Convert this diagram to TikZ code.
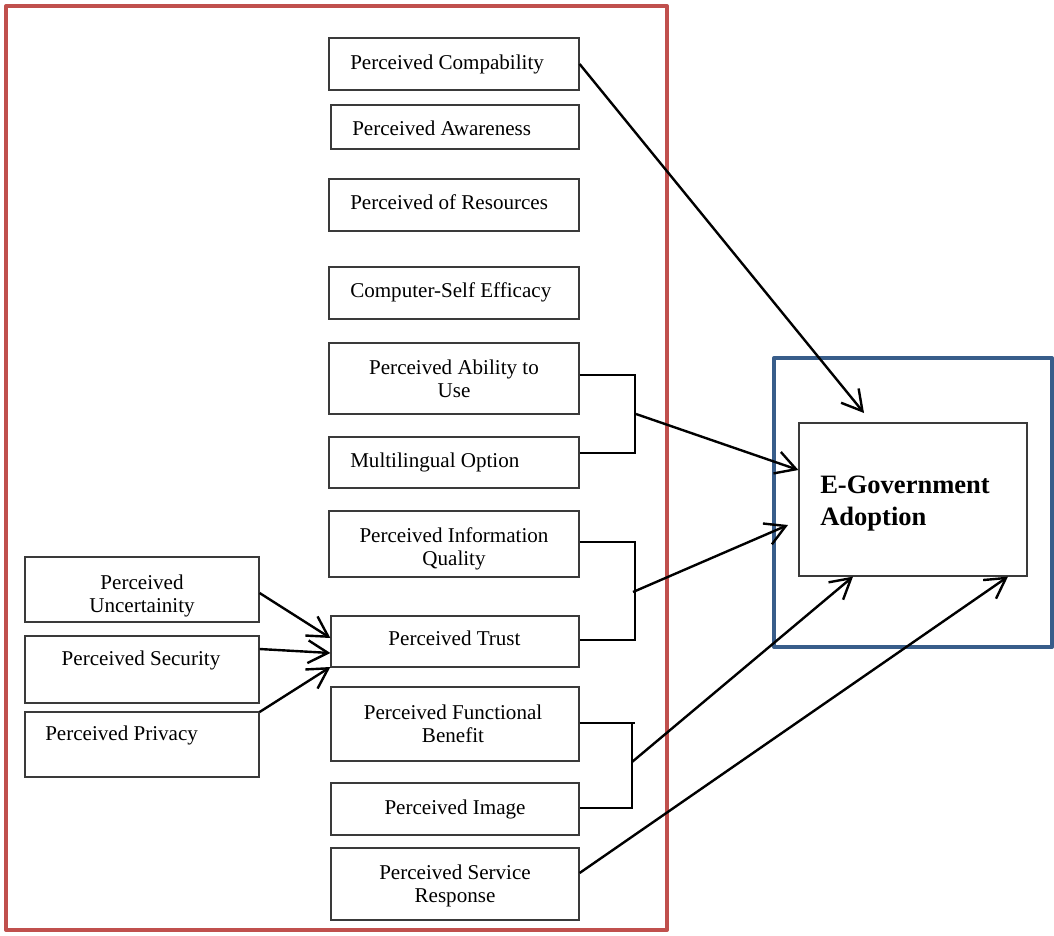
\documentclass[tikz,border=0pt]{standalone}
\usepackage{fontspec}
\setmainfont{Liberation Serif}
\usetikzlibrary{arrows.meta,fit}
\definecolor{frameRed}{HTML}{C0504D}
\definecolor{frameBlue}{HTML}{385D8A}
\definecolor{boxLine}{HTML}{3A3A3A}
\newcommand\bodyfont{\fontsize{15.8pt}{17.25pt}\selectfont}
\newcommand\headfont{\fontsize{19.9pt}{24pt}\selectfont\bfseries}
\begin{document}
\begin{tikzpicture}[x=0.75pt,y=-0.75pt,
  box/.style={draw=boxLine,line width=0.9pt,inner sep=0pt,rectangle},
  ctxt/.style={inner sep=0pt,anchor=north,align=center,font=\bodyfont},
  ltxt/.style={inner sep=0pt,anchor=north west,align=left,font=\bodyfont},
  wire/.style={draw=black,line width=1.2pt},
  arr/.style={draw=black,line width=1.8pt,-{Straight Barb[length=15pt,width=17pt]}},
  frame/.style={line width=3pt,line join=round}]
\useasboundingbox (0,0) rectangle (1054,936);

% outer frames
\draw[frame,frameRed] (6,6) rectangle (667,930);
\draw[frame,frameBlue] (774,358) rectangle (1052,647);

% factor boxes
\node[box,fit={(329,38) (579,90)}] (cp) {};
\node[box,fit={(331,105) (579,149)}] (aw) {};
\node[box,fit={(329,179) (579,231)}] (rs) {};
\node[box,fit={(329,267) (579,319)}] (cs) {};
\node[box,fit={(329,343) (579,414)}] (ab) {};
\node[box,fit={(329,437) (579,488)}] (ml) {};
\node[box,fit={(329,511) (579,577)}] (iq) {};
\node[box,fit={(331,616) (579,667)}] (tr) {};
\node[box,fit={(331,687) (579,761)}] (fb) {};
\node[box,fit={(331,783) (579,835)}] (im) {};
\node[box,fit={(331,848) (579,920)}] (sr) {};
\node[box,fit={(25,557) (259,622)}] (un) {};
\node[box,fit={(25,636) (259,703)}] (se) {};
\node[box,fit={(25,712) (259,777)}] (pv) {};
\node[box,fit={(799,423) (1027,576)}] (eg) {};

% box labels
\node[ltxt] (cpT) at (350,52.9) {\strut Perceived Compability};
\node[ltxt] (awT) at (352,118.9) {\strut Perceived Awareness};
\node[ltxt] (rsT) at (350,192.9) {\strut Perceived of Resources};
\node[ltxt] (csT) at (350,280.9) {\strut Computer-Self Efficacy};
\node[ctxt] (abT) at (454,357.9) {\strut Perceived Ability to\\\strut Use};
\node[ltxt] (mlT) at (350,450.9) {\strut Multilingual Option};
\node[ctxt] (iqT) at (454,525.9) {\strut Perceived Information\\\strut Quality};
\node[ctxt] (trT) at (454.5,628.9) {\strut Perceived Trust};
\node[ctxt] (fbT) at (453,702.9) {\strut Perceived Functional\\\strut Benefit};
\node[ctxt] (imT) at (455,797.9) {\strut Perceived Image};
\node[ctxt] (srT) at (455,862.9) {\strut Perceived Service\\\strut Response};
\node[ctxt] (unT) at (142,572.9) {\strut Perceived\\\strut Uncertainity};
\node[ctxt] (seT) at (141,648.9) {\strut Perceived Security};
\node[ltxt] (pvT) at (45,723.9) {\strut Perceived Privacy};
\node[inner sep=0pt,anchor=north west,align=left,font=\headfont] (egT) at (820,470.6)
  {\strut E-Government\\\strut Adoption};

% junction points and arrow ends
\coordinate (j1) at (636,414);
\coordinate (j2) at (633,592);
\coordinate (j3) at (632,762);
\coordinate (egTop) at (864,413);
\coordinate (egLeft) at (788,525);

% brackets joining paired factors
\draw[wire] (ab.east |- 0,375) -- (635,375) -- (635,453) -- (ml.east |- 0,453);
\draw[wire] (iq.east |- 0,542) -- (635,542) -- (635,640) -- (tr.east |- 0,640);
\draw[wire] (fb.east |- 0,723) -- (635,723);
\draw[wire] (632,723) -- (632,808) -- (im.east |- 0,808);

% arrows into the adoption box
\draw[arr] (cp.east) -- (egTop);
\draw[arr] (j1) -- (eg.west |- 0,470);
\draw[arr] (j2) -- (egLeft);
\draw[arr] (j3) -- (853,0 |- eg.south);
\draw[arr] (sr.east |- 0,873) -- (1008,0 |- eg.south);

% arrows into perceived trust
\draw[arr] (un.east |- 0,593) -- (tr.west |- 0,638);
\draw[arr] (se.east |- 0,649) -- (tr.west |- 0,653);
\draw[arr] (pv.east |- 0,712) -- (tr.west |- 0,667);
\end{tikzpicture}
\end{document}
